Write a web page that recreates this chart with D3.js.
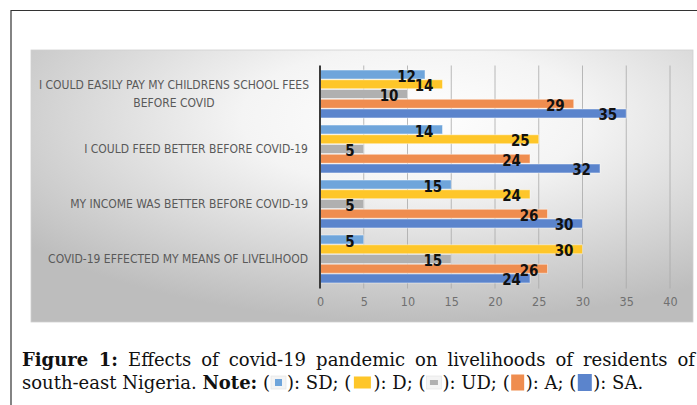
<!DOCTYPE html>
<html>
<head>
<meta charset="utf-8">
<script src="https://cdn.jsdelivr.net/npm/d3@7"></script>
<style>
  body { margin: 0; background: #fff; }
  svg { display: block; }
</style>
</head>
<body>
<div id="chart"></div>
<script>
// data, top to bottom as drawn
const categories = [
  ["I COULD EASILY PAY MY CHILDRENS SCHOOL FEES", "BEFORE COVID"],
  ["I COULD FEED BETTER BEFORE COVID-19"],
  ["MY INCOME WAS BETTER BEFORE COVID-19"],
  ["COVID-19 EFFECTED MY MEANS OF LIVELIHOOD"]
];
const seriesNames = ["SD", "D", "UD", "A", "SA"];
const sdValues = [12, 14, 15, 5];
const dValues  = [14, 25, 24, 30];
const udValues = [10, 5, 5, 15];
const aValues  = [29, 24, 26, 26];
const saValues = [35, 32, 30, 24];
const xTicks = [0, 5, 10, 15, 20, 25, 30, 35, 40];

const seriesValues = [sdValues, dValues, udValues, aValues, saValues];
const colors = ["#6fa5db", "#fec629", "#b0b0b0", "#ef8d4f", "#5b84cc"];

const W = 697, H = 405;
const svg = d3.select("#chart").append("svg")
  .attr("width", W).attr("height", H);

// outer frame
svg.append("path")
  .attr("d", `M11,${H} V10.5 H${W}`)
  .attr("fill", "none").attr("stroke", "#333").attr("stroke-width", 1.2);

// chart area with radial gradient
const defs = svg.append("defs");
const grad = defs.append("radialGradient").attr("id", "bg")
  .attr("cx", "58%").attr("cy", "25%").attr("r", "75%");
grad.append("stop").attr("offset", "0%").attr("stop-color", "#ffffff");
grad.append("stop").attr("offset", "35%").attr("stop-color", "#f4f4f4");
grad.append("stop").attr("offset", "100%").attr("stop-color", "#bdbdbd");

svg.append("rect")
  .attr("x", 31).attr("y", 50).attr("width", 662).attr("height", 272)
  .attr("fill", "url(#bg)")
  .attr("stroke", "#d0d0d0").attr("stroke-width", 0.8);

const plot = {left: 320, right: 670, top: 66.5, bottom: 286.5};

const x = d3.scaleLinear().domain([0, 40]).range([plot.left, plot.right]);
const y = d3.scaleBand().domain(d3.range(categories.length))
  .range([plot.top, plot.bottom]).paddingInner(0.1).paddingOuter(0.05);
const ySub = d3.scaleBand().domain(d3.range(seriesNames.length))
  .range([0, y.bandwidth()]).padding(0.08);

// gridlines
svg.append("g").selectAll("line")
  .data(xTicks.filter(t => t > 0))
  .join("line")
  .attr("x1", d => x(d)).attr("x2", d => x(d))
  .attr("y1", plot.top - 1).attr("y2", plot.bottom + 2)
  .attr("stroke", "#a8a8a8").attr("stroke-width", 0.8);

// bars
const rows = [];
categories.forEach((c, i) => {
  seriesValues.forEach((vals, s) => rows.push({cat: i, s: s, v: vals[i]}));
});

svg.append("g").selectAll("rect")
  .data(rows)
  .join("rect")
  .attr("x", x(0))
  .attr("y", d => y(d.cat) + ySub(d.s))
  .attr("width", d => x(d.v) - x(0))
  .attr("height", ySub.bandwidth())
  .attr("fill", d => colors[d.s])
  .attr("stroke", "#ffffff").attr("stroke-opacity", 0.45).attr("stroke-width", 1);

// value labels
svg.append("g").selectAll("text")
  .data(rows)
  .join("text")
  .attr("x", d => x(d.v) - 9)
  .attr("y", d => y(d.cat) + ySub(d.s) + ySub.bandwidth() / 2 + 2)
  .attr("text-anchor", "end")
  .attr("dominant-baseline", "central")
  .attr("font-family", "'Liberation Sans Narrow', 'DejaVu Sans Condensed', 'Liberation Sans', sans-serif")
  .attr("font-weight", "bold")
  .attr("font-size", 15)
  .attr("fill", "#111")
  .text(d => d.v);

// axis line
svg.append("line")
  .attr("x1", x(0)).attr("x2", x(0))
  .attr("y1", plot.top - 1).attr("y2", plot.bottom + 2)
  .attr("stroke", "#3a3a3a").attr("stroke-width", 2);

// x tick labels
const xAxis = d3.axisBottom(x).tickValues(xTicks).tickSize(0).tickPadding(0);
const gx = svg.append("g")
  .attr("transform", `translate(0,${plot.bottom + 11})`)
  .call(xAxis);
gx.select(".domain").remove();
gx.selectAll("text")
  .attr("font-family", "'Liberation Sans Narrow', 'DejaVu Sans Condensed', 'Liberation Sans', sans-serif")
  .attr("font-size", 12.5)
  .attr("fill", "#707070");

// category labels
const catG = svg.append("g")
  .attr("font-family", "'Liberation Sans Narrow', 'DejaVu Sans Condensed', 'Liberation Sans', sans-serif")
  .attr("font-size", 12)
  .attr("fill", "#595959");
categories.forEach((lines, i) => {
  const cy = y(i) + y.bandwidth() / 2;
  const t = catG.append("text")
    .attr("text-anchor", lines.length > 1 ? "middle" : "end")
    .attr("dominant-baseline", "central");
  lines.forEach((ln, j) => {
    t.append("tspan")
      .attr("x", lines.length > 1 ? 174 : 308)
      .attr("y", cy + (j - (lines.length - 1) / 2) * 17.5)
      .text(ln);
  });
});

// caption
const serif = "'DejaVu Serif', 'Liberation Serif', serif";
const cap1 = svg.append("text")
  .attr("x", 22).attr("y", 366)
  .attr("font-family", serif).attr("font-size", 18).attr("fill", "#111")
  .style("white-space", "pre");
cap1.append("tspan").attr("font-weight", "bold").text("Figure 1:");
cap1.append("tspan").text(" Effects of covid-19 pandemic on livelihoods of residents of");
const natural = cap1.node().getComputedTextLength();
cap1.attr("word-spacing", (695 - 22 - natural) / 10);

const line2 = [
  {t: "south-east Nigeria. "}, {t: "Note:", b: true}, {t: " ("}, {icon: 0},
  {t: "): SD; ("}, {icon: 1}, {t: "): D; ("}, {icon: 2},
  {t: "): UD; ("}, {icon: 3}, {t: "): A; ("}, {icon: 4}, {t: "): SA."}
];
// icon boxes: [boxW, innerW, innerH, boxed]
const iconShape = [
  [17, 7, 7, true], [22, 17, 12, false], [17, 8, 5, true], [16, 13, 16, false], [17, 14, 17, false]
];
let cx = 22;
const base2 = 389;
line2.forEach(seg => {
  if (seg.icon !== undefined) {
    const [bw, iw, ih, boxed] = iconShape[seg.icon];
    if (boxed) {
      svg.append("rect")
        .attr("x", cx + 1).attr("y", base2 - 13).attr("width", bw - 2).attr("height", 13)
        .attr("fill", "#f4f4f4").attr("stroke", "#e2e2e2").attr("stroke-width", 0.6);
    }
    svg.append("rect")
      .attr("x", cx + (bw - iw) / 2).attr("y", base2 - 6.5 - ih / 2)
      .attr("width", iw).attr("height", ih)
      .attr("fill", colors[seg.icon]);
    cx += bw;
  } else {
    const t = svg.append("text")
      .attr("x", cx).attr("y", base2)
      .attr("font-family", serif).attr("font-size", 18).attr("fill", "#111")
      .attr("font-weight", seg.b ? "bold" : "normal")
      .style("white-space", "pre")
      .text(seg.t);
    cx += t.node().getComputedTextLength();
  }
});
</script>
</body>
</html>
